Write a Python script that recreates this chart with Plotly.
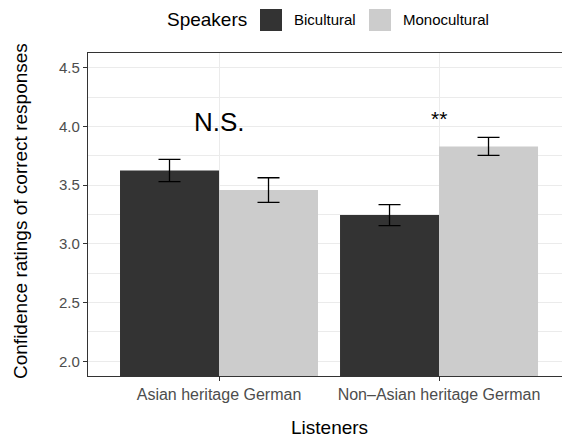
import plotly.graph_objects as go

# Mean confidence ratings (with standard errors) by listener group and speaker group
listeners = ["Asian heritage German", "Non\u2013Asian heritage German"]
listener_pos = [1, 2]
bicultural = [3.625, 3.245]
bicultural_se = [0.095, 0.089]
monocultural = [3.458, 3.830]
monocultural_se = [0.105, 0.077]
sig_labels = ["N.S.", "**"]
sig_y = [4.04, 4.065]
y_ticks = [2.0, 2.5, 3.0, 3.5, 4.0, 4.5]

DARK = "#333333"
LIGHT = "#CCCCCC"
GRID = "#EBEBEB"
FONT = "Liberation Sans, Arial, sans-serif"

W, H = 562, 439
L, T, R, B = 88, 53, 0, 63
PW, PH = W - L - R, H - T - B


def px(x):
    return (x - L) / PW


def py(y):
    return (H - B - y) / PH


fig = go.Figure()
fig.add_trace(go.Bar(
    x=listener_pos, y=bicultural, name="Bicultural",
    marker=dict(color=DARK, line=dict(width=0)),
    error_y=dict(type="data", array=bicultural_se, color="black", thickness=1.3, width=11),
    showlegend=False,
))
fig.add_trace(go.Bar(
    x=listener_pos, y=monocultural, name="Monocultural",
    marker=dict(color=LIGHT, line=dict(width=0)),
    error_y=dict(type="data", array=monocultural_se, color="black", thickness=1.3, width=11),
    showlegend=False,
))

annotations = []
# significance labels above each listener group
for xv, lab, yv in zip(listener_pos, sig_labels, sig_y):
    annotations.append(dict(x=xv, y=yv, xref="x", yref="y", text=lab, showarrow=False,
                            font=dict(family=FONT, size=26 if lab == "N.S." else 21, color="black"),
                            xanchor="center", yanchor="middle"))

# axis titles
annotations.append(dict(x=px(329), y=py(427), xref="paper", yref="paper", text="Listeners",
                        showarrow=False, font=dict(family=FONT, size=19, color="black"),
                        xanchor="center", yanchor="middle"))
annotations.append(dict(x=px(20), y=py(211), xref="paper", yref="paper",
                        text="Confidence ratings of correct responses", textangle=-90,
                        showarrow=False, font=dict(family=FONT, size=19, color="black"),
                        xanchor="center", yanchor="middle"))

# legend drawn at the top
annotations.append(dict(x=px(249), y=py(20), xref="paper", yref="paper", text="Speakers",
                        showarrow=False, font=dict(family=FONT, size=19, color="black"),
                        xanchor="right", yanchor="middle"))
legend_items = [("Bicultural", DARK, 260), ("Monocultural", LIGHT, 369)]
shapes = []
for name, col, x0 in legend_items:
    shapes.append(dict(type="rect", xref="paper", yref="paper",
                       x0=px(x0), x1=px(x0 + 22), y0=py(31), y1=py(9),
                       fillcolor=col, line=dict(width=0), layer="above"))
    annotations.append(dict(x=px(x0 + 32), y=py(20), xref="paper", yref="paper", text=name,
                            showarrow=False, font=dict(family=FONT, size=15, color="black"),
                            xanchor="left", yanchor="middle"))

fig.update_layout(
    width=W, height=H,
    margin=dict(l=L, r=R, t=T, b=B, pad=0),
    paper_bgcolor="white", plot_bgcolor="white",
    barmode="group", bargap=0.1, bargroupgap=0,
    annotations=annotations, shapes=shapes,
    font=dict(family=FONT),
)
fig.update_xaxes(
    range=[0.4045, 2.559], tickvals=listener_pos, ticktext=listeners,
    tickfont=dict(family=FONT, size=16, color="#4D4D4D"),
    showgrid=True, gridcolor=GRID, gridwidth=1.3,
    showline=True, linecolor="#333333", linewidth=1.2, mirror=True,
    ticks="outside", ticklen=4, tickcolor="#333333", tickwidth=1,
    zeroline=False, fixedrange=True,
)
fig.update_yaxes(
    range=[1.875, 4.625], tickvals=y_ticks, tickformat=".1f",
    tickfont=dict(family=FONT, size=15, color="#4D4D4D"),
    showgrid=True, gridcolor=GRID, gridwidth=1.3,
    minor=dict(tickvals=[2.25, 2.75, 3.25, 3.75, 4.25], showgrid=True, gridcolor=GRID, gridwidth=0.7),
    showline=True, linecolor="#333333", linewidth=1.2, mirror=False,
    ticks="outside", ticklen=4, tickcolor="#333333", tickwidth=1,
    zeroline=False, fixedrange=True,
)

fig.write_html("out.html", config={"displayModeBar": False})
